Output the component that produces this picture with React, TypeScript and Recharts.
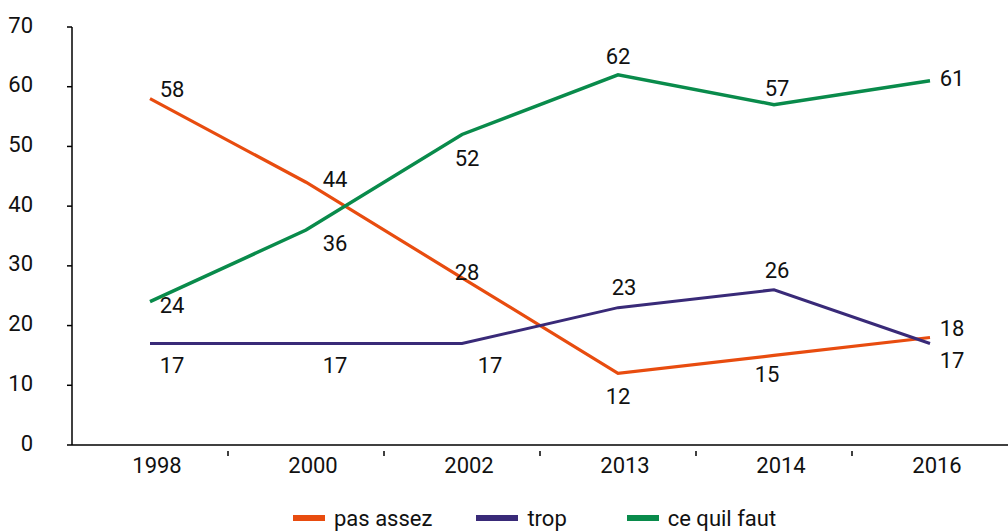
import { LineChart, Line, XAxis, YAxis, Legend, LabelList } from 'recharts';

const years = ['1998', '2000', '2002', '2013', '2014', '2016'];
const pasAssez = [58, 44, 28, 12, 15, 18];
const trop = [17, 17, 17, 23, 26, 17];
const ceQuilFaut = [24, 36, 52, 62, 57, 61];
const yTicks = [0, 10, 20, 30, 40, 50, 60, 70];

// placement des étiquettes (décalage du centre du texte par rapport au point)
const offsetsPasAssez = [[22, -9], [29, -3], [5, -5], [0, 23], [-7, 19], [22, -9]];
const offsetsTrop = [[22, 22], [29, 22], [28, 22], [6, -20], [3, -19], [22, 17]];
const offsetsFaut = [[22, 4], [29, 13], [5, 24], [0, -18], [3, -16], [22, -2]];

const W = 1008;
const H = 532;
const LEFT = 72;
const HALF_BAND = (W - LEFT) / 12;
const FONT = "'Roboto', sans-serif";
const FS = 22;

const data = years.map((year, i) => ({
  year,
  pasAssez: pasAssez[i],
  trop: trop[i],
  ceQuilFaut: ceQuilFaut[i],
}));

const series = [
  { key: 'pasAssez', name: 'pas assez', color: '#E84C0F', width: 3.2, offsets: offsetsPasAssez },
  { key: 'trop', name: 'trop', color: '#392A78', width: 3, offsets: offsetsTrop },
  { key: 'ceQuilFaut', name: 'ce quil faut', color: '#098B4B', width: 3.5, offsets: offsetsFaut },
];

const makeLabel = (offsets: number[][]) => (props: any) => {
  const { x, y, value, index } = props;
  const [dx, dy] = offsets[index] || [0, 0];
  return (
    <text x={x + dx} y={y + dy} textAnchor="middle" dominantBaseline="central"
      fontFamily={FONT} fontSize={FS} fill="#111">
      {value}
    </text>
  );
};

const XTick = (props: any) => {
  const { x, y, payload, index } = props;
  return (
    <g>
      {index > 0 && <line x1={x - HALF_BAND} x2={x - HALF_BAND} y1={y} y2={y + 5} stroke="#000" strokeWidth={1.5} />}
      <text x={x + 7} y={y + 14} textAnchor="middle" dominantBaseline="central"
        fontFamily={FONT} fontSize={FS} fill="#111">
        {payload.value}
      </text>
    </g>
  );
};

const YTick = (props: any) => {
  const { y, payload } = props;
  return (
    <text x={33} y={y - 2} textAnchor="end" dominantBaseline="central"
      fontFamily={FONT} fontSize={FS} fill="#111">
      {payload.value}
    </text>
  );
};

const LegendContent = () => (
  <div style={{ display: 'flex', alignItems: 'center', height: 26, paddingLeft: 293, fontFamily: FONT, fontSize: FS, color: '#111' }}>
    {series.map((s, i) => (
      <div key={s.key} style={{ display: 'flex', alignItems: 'center', marginRight: i === 0 ? 44 : 60 }}>
        <span style={{ display: 'inline-block', width: s.key === 'trop' ? 42 : 32, height: 6, background: s.color, marginRight: 9 }} />
        <span>{s.name}</span>
      </div>
    ))}
  </div>
);

export default function App() {
  return (
    <div style={{ position: 'absolute', left: 0, top: 0, width: W, height: H, background: '#fff' }}>
      <LineChart width={W} height={H} data={data} margin={{ top: 27, right: 0, bottom: 12, left: 0 }}>
        <XAxis dataKey="year" padding={{ left: HALF_BAND, right: HALF_BAND }} axisLine={{ stroke: '#000', strokeWidth: 1.5 }}
          tickLine={false} tick={<XTick />} height={40} tickMargin={0} interval={0} />
        <YAxis domain={[0, 70]} ticks={yTicks} width={LEFT} axisLine={{ stroke: '#000', strokeWidth: 1.5 }}
          tickLine={{ stroke: '#000', strokeWidth: 1.5 }} tickSize={5} tick={<YTick />} interval={0} />
        <Legend verticalAlign="bottom" height={35} content={<LegendContent />} wrapperStyle={{ left: 0, top: 505, width: W }} />
        {series.map((s) => (
          <Line key={s.key} dataKey={s.key} name={s.name} stroke={s.color} strokeWidth={s.width}
            dot={false} activeDot={false} isAnimationActive={false} strokeLinejoin="miter">
            <LabelList dataKey={s.key} content={makeLabel(s.offsets)} />
          </Line>
        ))}
      </LineChart>
    </div>
  );
}
